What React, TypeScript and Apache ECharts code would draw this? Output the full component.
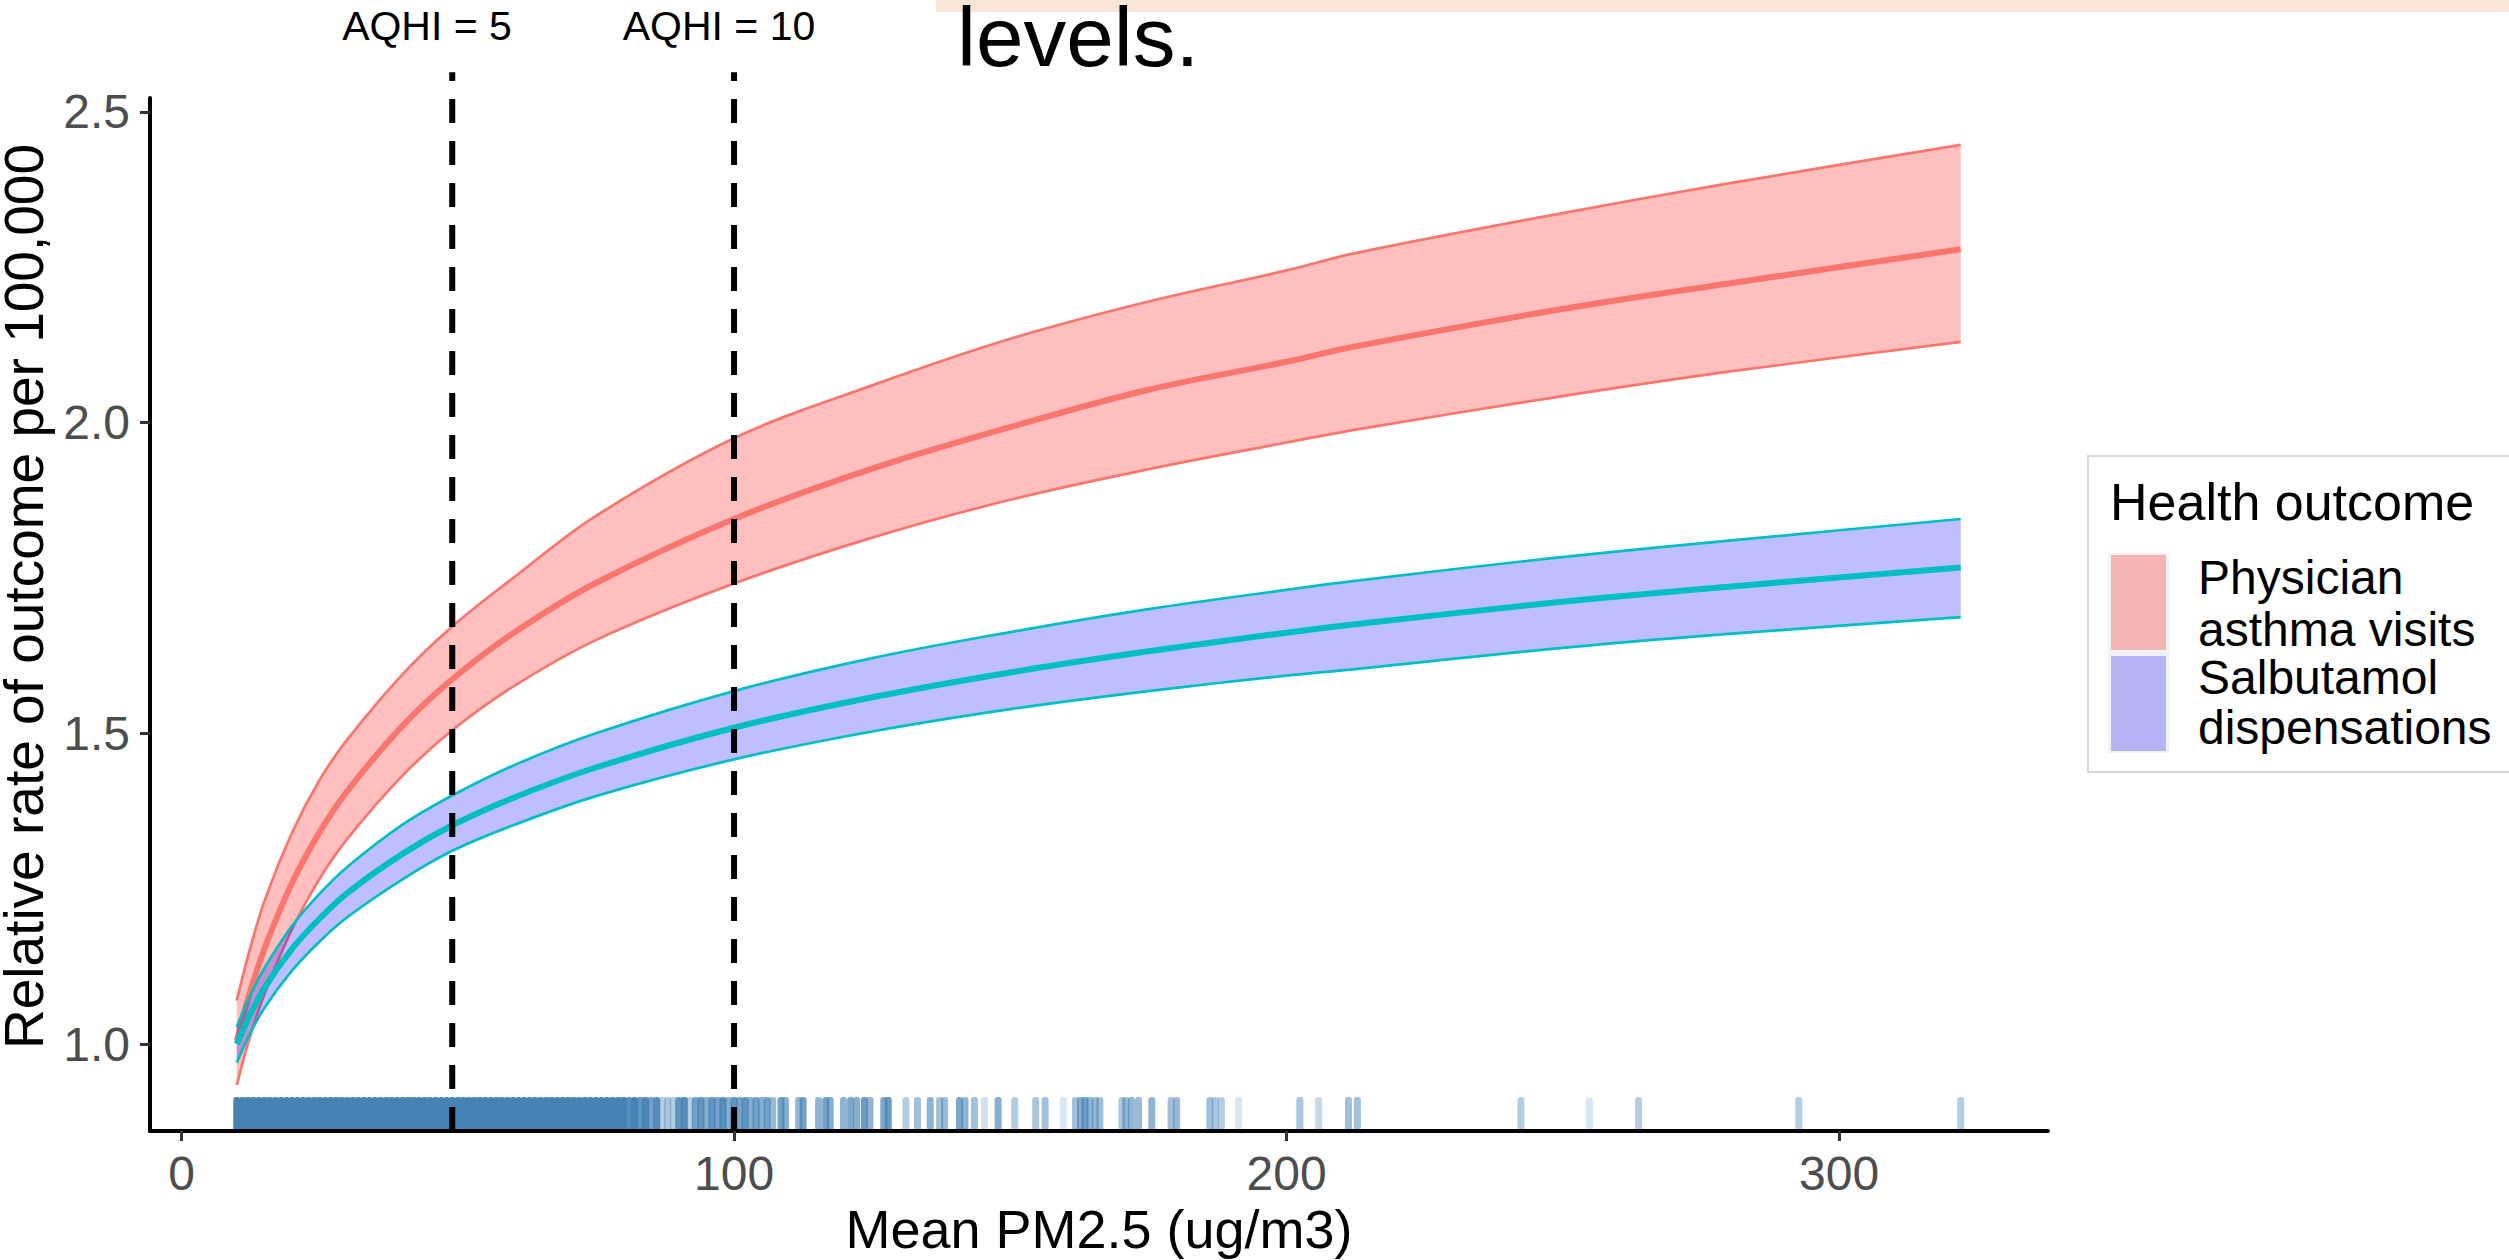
import React, { useEffect, useRef } from "react";
import * as echarts from "echarts";

// ---------- data ----------
const PM25 = [10, 12, 15, 20, 25, 30, 40, 49, 60, 75, 100, 125, 150, 175, 200, 212, 248, 280, 322];

const ASTHMA_UPPER = [1.07, 1.14, 1.23, 1.34, 1.425, 1.49, 1.595, 1.672, 1.75, 1.85, 1.975, 2.06, 2.135, 2.195, 2.245, 2.272, 2.334, 2.385, 2.447];
const ASTHMA_FIT = [1.005, 1.072, 1.153, 1.259, 1.341, 1.407, 1.512, 1.587, 1.661, 1.742, 1.845, 1.926, 1.993, 2.053, 2.098, 2.122, 2.18, 2.224, 2.279];
const ASTHMA_LOWER = [0.934, 1.0, 1.08, 1.185, 1.266, 1.33, 1.432, 1.505, 1.575, 1.65, 1.741, 1.815, 1.876, 1.925, 1.968, 1.988, 2.04, 2.082, 2.13];

const SALB_UPPER = [1.027, 1.07, 1.122, 1.19, 1.242, 1.285, 1.353, 1.4, 1.448, 1.5, 1.568, 1.621, 1.663, 1.7, 1.731, 1.745, 1.782, 1.81, 1.845];
const SALB_FIT = [1.0, 1.04, 1.09, 1.153, 1.202, 1.243, 1.306, 1.352, 1.396, 1.445, 1.509, 1.558, 1.598, 1.632, 1.662, 1.675, 1.71, 1.736, 1.767];
const SALB_LOWER = [0.97, 1.01, 1.058, 1.118, 1.165, 1.204, 1.265, 1.311, 1.352, 1.399, 1.458, 1.503, 1.539, 1.568, 1.593, 1.603, 1.636, 1.66, 1.687];

const AQHI_X = [49, 100];
const AQHI_LABELS = ["AQHI = 5", "AQHI = 10"];

const X_TICKS = [0, 100, 200, 300];
const Y_TICKS = [1.0, 1.5, 2.0, 2.5];

// rug: dense block of observations (opaque) and sparser ones [x, opacity]
const RUG_DENSE = [10, 11, 12, 13, 14, 15, 16, 17, 18, 19, 20, 21, 22, 23, 24, 25, 26, 27, 28, 29, 30, 31, 32, 33, 34, 35, 36, 37, 38, 39, 40, 41, 42, 43, 44, 45, 46, 47, 48, 49, 50, 51, 52, 53, 54, 55, 56, 57, 58, 59, 60, 61, 62, 63, 64, 65, 66, 67, 68, 69, 70, 71, 72, 73, 74, 75, 76, 77, 78, 79, 80];
const RUG_SPARSE = [
  [81, 0.9], [82, 1], [83, 0.85], [84, 0.95], [85, 0.75], [86, 0.9], [87, 0.4], [88, 0.45], [89, 0.4], [90, 0.85],
  [91, 0.9], [92, 0.4], [93, 0.75], [94, 0.85], [95, 0.65], [96, 0.85], [97, 0.75], [98, 0.9], [99, 0.65], [100, 0.85],
  [101, 0.75], [102, 0.85], [103, 0.65], [104, 0.75], [105, 0.65], [106, 0.75], [107, 0.55], [108.5, 0.75], [109.3, 0.65],
  [111.7, 0.6], [112.5, 0.75], [115.3, 0.6], [116.6, 0.75], [117.4, 0.65], [119.8, 0.6], [121.1, 0.7], [122.2, 0.65],
  [123.6, 0.8], [124.6, 0.6], [127.1, 0.7], [127.9, 0.8], [131.1, 0.4], [133.2, 0.5], [135.5, 0.6], [137.2, 0.5],
  [138.1, 0.55], [140.8, 0.7], [141.8, 0.6], [143.5, 0.5], [145.3, 0.25], [147.8, 0.65], [150.8, 0.4], [154.6, 0.45],
  [156.3, 0.5], [159.6, 0.2], [161.8, 0.5], [162.7, 0.65], [163.5, 0.75], [164.4, 0.6], [165.4, 0.55], [166.2, 0.5],
  [170.2, 0.45], [170.9, 0.55], [171.9, 0.6], [173.2, 0.55], [175.6, 0.6], [179.1, 0.5], [180.1, 0.55], [186.1, 0.5],
  [187.1, 0.45], [188.2, 0.4], [191.3, 0.2], [202.4, 0.45], [205.8, 0.3], [211.2, 0.5], [212.8, 0.5],
  [242.4, 0.4], [254.8, 0.2], [263.7, 0.4], [292.7, 0.4], [322, 0.4],
];

// ---------- styling ----------
const X_MIN = -5.7;
const X_MAX = 337.8;
const Y_MIN = 0.86;
const Y_MAX = 2.5225;
const DASH_TOP = 2.564;

const RED = "#F8766D";
const TEAL = "#00BFC4";
const RED_FILL = "rgba(255,0,0,0.25)";
const BLUE_FILL = "rgba(0,0,255,0.25)";
const FONT = '"Liberation Sans", Arial, sans-serif';
const SMOOTH = 0.35;

// bezier control points (like ECharts' line smoothing, monotone in x)
function controls(pts: number[][], s: number) {
  const cin: number[][] = [];
  const cout: number[][] = [];
  const n = pts.length;
  for (let i = 0; i < n; i++) {
    const p = pts[i];
    const prev = pts[i - 1] || p;
    const next = pts[i + 1] || p;
    const vx = next[0] - prev[0];
    const vy = next[1] - prev[1];
    const dPrev = Math.abs(p[0] - prev[0]);
    const dNext = Math.abs(next[0] - p[0]);
    const ratio = dPrev + dNext > 0 ? dNext / (dPrev + dNext) : 0.5;
    cin[i] = [p[0] - vx * s * (1 - ratio), p[1] - vy * s * (1 - ratio)];
    cout[i] = [p[0] + vx * s * ratio, p[1] + vy * s * ratio];
  }
  return { cin, cout };
}
const f = (p: number[]) => p[0].toFixed(2) + " " + p[1].toFixed(2);
function forwardPath(pts: number[][], s: number, start: string) {
  const { cin, cout } = controls(pts, s);
  let d = start + " " + f(pts[0]);
  for (let i = 0; i < pts.length - 1; i++) d += " C " + f(cout[i]) + " " + f(cin[i + 1]) + " " + f(pts[i + 1]);
  return d;
}
function backwardPath(pts: number[][], s: number, start: string) {
  const { cin, cout } = controls(pts, s);
  const n = pts.length;
  let d = start + " " + f(pts[n - 1]);
  for (let i = n - 2; i >= 0; i--) d += " C " + f(cin[i + 1]) + " " + f(cout[i]) + " " + f(pts[i]);
  return d;
}

function curveSeries(name: string, upper: number[], lower: number[], fit: number[], lineColor: string, fill: string) {
  return {
    name,
    type: "custom",
    data: PM25.map((x, i) => [x, upper[i], lower[i], fit[i]]),
    encode: { x: 0, y: [1, 2, 3] },
    silent: true,
    renderItem: (params: any, api: any) => {
      if (params.dataIndexInside !== 0) return null;
      const n = params.dataInsideLength;
      const up: number[][] = [];
      const lo: number[][] = [];
      const mid: number[][] = [];
      for (let i = 0; i < n; i++) {
        const x = api.value(0, i);
        up.push(api.coord([x, api.value(1, i)]));
        lo.push(api.coord([x, api.value(2, i)]));
        mid.push(api.coord([x, api.value(3, i)]));
      }
      const fillD = forwardPath(up, SMOOTH, "M") + " " + backwardPath(lo, SMOOTH, "L") + " Z";
      return {
        type: "group",
        children: [
          { type: "path", shape: { pathData: fillD }, style: { fill, stroke: null } },
          { type: "path", shape: { pathData: forwardPath(up, SMOOTH, "M") }, style: { fill: null, stroke: lineColor, lineWidth: 2.7 } },
          { type: "path", shape: { pathData: forwardPath(lo, SMOOTH, "M") }, style: { fill: null, stroke: lineColor, lineWidth: 2.7 } },
          { type: "path", shape: { pathData: forwardPath(mid, SMOOTH, "M") }, style: { fill: null, stroke: lineColor, lineWidth: 6 } },
        ],
      };
    },
  };
}

export default function App() {
  const ref = useRef<HTMLDivElement>(null);

  useEffect(() => {
    if (!ref.current) return;
    const chart = echarts.init(ref.current, null, { renderer: "svg" });

    const rug = [...RUG_DENSE.map((x) => [x, 1]), ...RUG_SPARSE];

    const option: any = {
      animation: false,
      backgroundColor: "#ffffff",
      grid: { left: 150, right: 461, top: 98, bottom: 129, containLabel: false, outerBoundsMode: "none" },
      xAxis: {
        type: "value",
        min: X_MIN,
        max: X_MAX,
        name: "Mean PM2.5 (ug/m3)",
        nameLocation: "middle",
        nameGap: 64,
        nameTextStyle: { fontFamily: FONT, fontSize: 54, color: "#000" },
        axisLine: { show: true, onZero: false, lineStyle: { color: "#000", width: 4 } },
        axisTick: { show: true, customValues: X_TICKS, length: 10, lineStyle: { color: "#333", width: 3 } },
        axisLabel: { customValues: X_TICKS, margin: 18, fontFamily: FONT, fontSize: 48, color: "#4D4D4D" },
        splitLine: { show: false },
      },
      yAxis: {
        type: "value",
        min: Y_MIN,
        max: Y_MAX,
        name: "Relative rate of outcome per 100,000",
        nameLocation: "middle",
        nameGap: 84,
        nameRotate: 90,
        nameTextStyle: { fontFamily: FONT, fontSize: 55, lineHeight: 56, color: "#000", padding: [0, 0, 0, 36] },
        axisLine: { show: true, onZero: false, lineStyle: { color: "#000", width: 4 } },
        axisTick: { show: true, customValues: Y_TICKS, length: 10, lineStyle: { color: "#333", width: 3 } },
        axisLabel: {
          customValues: Y_TICKS,
          margin: 20,
          fontFamily: FONT,
          fontSize: 48,
          color: "#4D4D4D",
          formatter: (v: number) => v.toFixed(1),
        },
        splitLine: { show: false },
      },
      series: [
        {
          name: "rug",
          type: "custom",
          data: rug,
          encode: { x: 0 },
          silent: true,
          renderItem: (params: any, api: any) => {
            const x = api.value(0);
            const alpha = api.value(1);
            const base = api.coord([x, Y_MIN]);
            const h = params.coordSys.height * 0.031;
            return {
              type: "rect",
              shape: { x: base[0] - 3.5, y: base[1] - 2 - h, width: 7, height: h, r: [3, 3, 0, 0] },
              style: { fill: "#4682B4", opacity: alpha },
            };
          },
        },
        curveSeries("Physician asthma visits", ASTHMA_UPPER, ASTHMA_LOWER, ASTHMA_FIT, RED, RED_FILL),
        curveSeries("Salbutamol dispensations", SALB_UPPER, SALB_LOWER, SALB_FIT, TEAL, BLUE_FILL),
        ...AQHI_X.map((x, i) => ({
          name: AQHI_LABELS[i],
          type: "line",
          data: [[x, Y_MIN], [x, DASH_TOP]],
          symbol: "none",
          clip: false,
          z: 10,
          silent: true,
          lineStyle: { color: "#000", width: 6, type: [24, 18] },
        })),
      ],
      graphic: [
        { type: "rect", shape: { x: 936, y: 0, width: 1580, height: 12 }, style: { fill: "#FBE5D6" }, silent: true },
        {
          type: "text",
          x: 957,
          y: 37,
          scaleX: 1.03,
          style: { text: "levels.", x: 0, y: 0, fontFamily: FONT, fontSize: 83, lineHeight: 64, fill: "#000", align: "left", verticalAlign: "middle" },
        },
        {
          type: "text",
          x: 427,
          y: 26,
          style: { text: AQHI_LABELS[0], fontFamily: FONT, fontSize: 41, fill: "#000", align: "center", verticalAlign: "middle" },
        },
        {
          type: "text",
          x: 719,
          y: 26,
          style: { text: AQHI_LABELS[1], fontFamily: FONT, fontSize: 41, fill: "#000", align: "center", verticalAlign: "middle" },
        },
        // legend
        {
          type: "rect",
          shape: { x: 2088, y: 456, width: 440, height: 316 },
          style: { fill: "#fff", stroke: "#D9D9D9", lineWidth: 2 },
        },
        {
          type: "text",
          x: 2110,
          y: 502,
          style: { text: "Health outcome", fontFamily: FONT, fontSize: 52, fill: "#000", align: "left", verticalAlign: "middle" },
        },
        { type: "rect", shape: { x: 2108, y: 553, width: 61, height: 100 }, style: { fill: "#F2F2F2" } },
        { type: "rect", shape: { x: 2111, y: 555, width: 55, height: 95 }, style: { fill: RED_FILL } },
        { type: "rect", shape: { x: 2108, y: 653, width: 61, height: 100 }, style: { fill: "#F2F2F2" } },
        { type: "rect", shape: { x: 2111, y: 656, width: 55, height: 95 }, style: { fill: BLUE_FILL } },
        {
          type: "text",
          x: 2198,
          y: 603,
          style: { text: "Physician\nasthma visits", fontFamily: FONT, fontSize: 48, lineHeight: 52, fill: "#000", align: "left", verticalAlign: "middle" },
        },
        {
          type: "text",
          x: 2198,
          y: 702,
          style: { text: "Salbutamol\ndispensations", fontFamily: FONT, fontSize: 48, lineHeight: 50, fill: "#000", align: "left", verticalAlign: "middle" },
        },
      ],
    };

    chart.setOption(option);
    return () => chart.dispose();
  }, []);

  return (
    <div
      ref={ref}
      style={{ position: "fixed", left: 0, top: 0, width: 2509, height: 1260, background: "#fff" }}
    />
  );
}
